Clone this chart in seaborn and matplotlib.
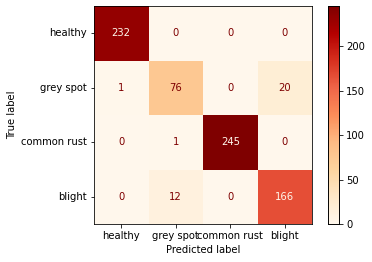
import numpy as np
import pandas as pd
import matplotlib
matplotlib.use("Agg")
import matplotlib.pyplot as plt
import seaborn as sns

labels = ["healthy", "grey spot", "common rust", "blight"]
row_healthy = [232, 0, 0, 0]
row_grey_spot = [1, 76, 0, 20]
row_common_rust = [0, 1, 245, 0]
row_blight = [0, 12, 0, 166]

cm = pd.DataFrame(
    [row_healthy, row_grey_spot, row_common_rust, row_blight],
    index=labels, columns=labels
)

W, H = 372, 262
fig = plt.figure(figsize=(W / 72, H / 72), dpi=72)
ax = fig.add_axes([94 / W, 38 / H, 218 / W, 218 / H])
cax = fig.add_axes([328 / W, 38 / H, 11 / W, 218 / H])

cmap = plt.get_cmap("OrRd")
vmin, vmax = cm.values.min(), cm.values.max()
sns.heatmap(cm, ax=ax, cbar_ax=cax, cmap=cmap, vmin=vmin, vmax=vmax,
            annot=False, square=False, linewidths=0)

# sklearn-style text colours
thresh = (vmax + vmin) / 2.0
for i in range(cm.shape[0]):
    for j in range(cm.shape[1]):
        v = cm.values[i, j]
        color = cmap(0.0) if v >= thresh else cmap(1.0)
        ax.text(j + 0.5, i + 0.5, str(v), ha="center", va="center",
                color=color, fontsize=10)

for s in ax.spines.values():
    s.set_visible(True)
    s.set_linewidth(0.8)
    s.set_color("black")
ax.tick_params(length=3.5, width=0.8, labelsize=10)
ax.set_yticklabels(labels, rotation=0)
ax.set_xticklabels(labels, rotation=0)
ax.set_xlabel("Predicted label", fontsize=10)
ax.set_ylabel("True label", fontsize=10)

cax.set_yticks([0, 50, 100, 150, 200])
cax.tick_params(length=3.5, width=0.8, labelsize=10)
for s in cax.spines.values():
    s.set_visible(True)
    s.set_linewidth(0.8)
    s.set_color("black")

fig.savefig("out.png", dpi=72)
